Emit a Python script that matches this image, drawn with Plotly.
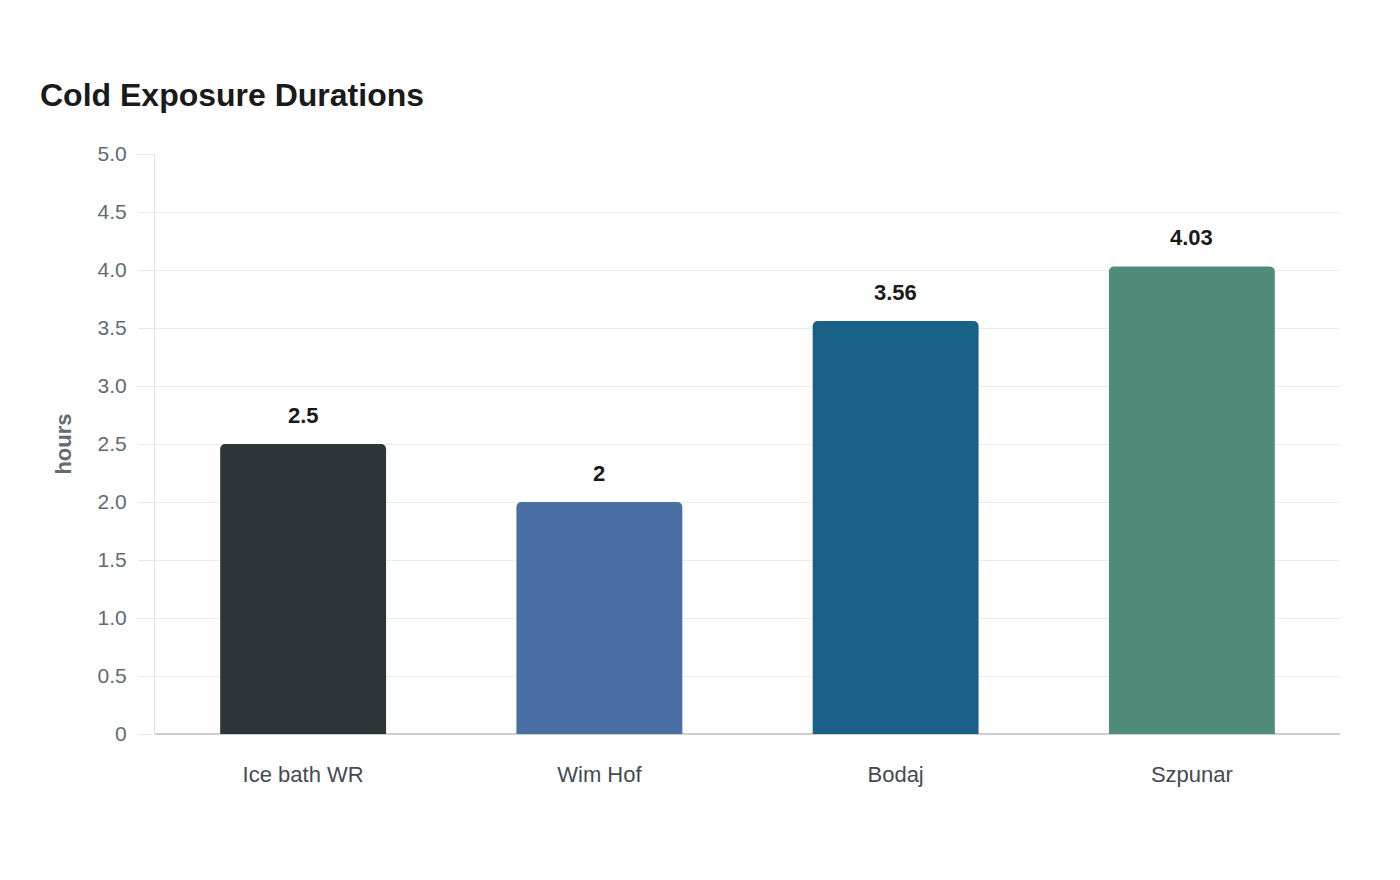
import plotly.graph_objects as go

categories = ["Ice bath WR", "Wim Hof", "Bodaj", "Szpunar"]
hours = [2.5, 2, 3.56, 4.03]
value_labels = ["2.5", "2", "3.56", "4.03"]
bar_colors = ["#2e3538", "#4a6fa5", "#1a6188", "#508c7c"]
y_tickvals = [0, 0.5, 1.0, 1.5, 2.0, 2.5, 3.0, 3.5, 4.0, 4.5, 5.0]
y_ticktext = ["0", "0.5", "1.0", "1.5", "2.0", "2.5", "3.0", "3.5", "4.0", "4.5", "5.0"]

FONT = "Liberation Sans, Arial, sans-serif"

fig = go.Figure()
fig.add_trace(go.Bar(
    x=categories, y=hours,
    marker=dict(color=bar_colors, line=dict(width=0), cornerradius=5),
    hoverinfo="x+y",
))

for c, v, t in zip(categories, hours, value_labels):
    fig.add_annotation(x=c, y=v, text="<b>%s</b>" % t, showarrow=False,
                       yshift=29, font=dict(family=FONT, size=22, color="#1a1a1a"))

fig.update_layout(
    width=1400, height=880,
    paper_bgcolor="white", plot_bgcolor="white",
    margin=dict(l=155, r=60, t=154, b=146),
    bargap=0.44,
    showlegend=False,
    font=dict(family=FONT),
    title=dict(text="<b>Cold Exposure Durations</b>", x=40/1400, xanchor="left",
               y=1 - 95/880, yanchor="middle",
               font=dict(family=FONT, size=32, color="#1a1a1a")),
    xaxis=dict(showgrid=False, showline=False, zeroline=False,
               ticks="outside", ticklen=21, tickcolor="rgba(0,0,0,0)",
               tickfont=dict(family=FONT, size=22, color="#444b50")),
    yaxis=dict(range=[0, 5.0], tickvals=y_tickvals, ticktext=y_ticktext,
               showgrid=True, gridcolor="#ebebeb", gridwidth=1,
               zeroline=True, zerolinecolor="#cfcfcf", zerolinewidth=2,
               showline=True, linecolor="#e3e3e3", linewidth=1,
               ticks="outside", ticklen=16, tickcolor="#e8e8e8",
               ticklabelstandoff=7,
               tickfont=dict(family=FONT, size=21, color="#5f6b73"),
               title=dict(text="<b>hours</b>", standoff=19,
                          font=dict(family=FONT, size=22, color="#666b70"))),
)

fig.write_html("out.html")
